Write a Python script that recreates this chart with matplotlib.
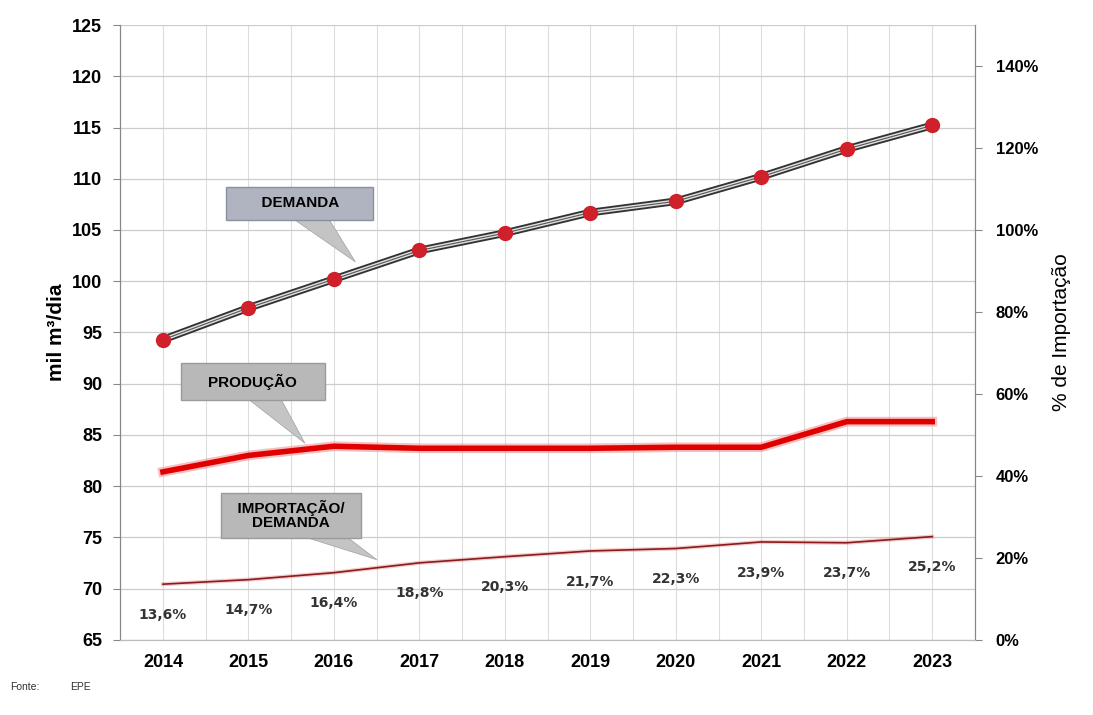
import numpy as np
import matplotlib.pyplot as plt
from matplotlib.ticker import FuncFormatter

anos = [2014, 2015, 2016, 2017, 2018, 2019, 2020, 2021, 2022, 2023]
demanda = [94.3, 97.4, 100.2, 103.0, 104.7, 106.7, 107.8, 110.2, 112.9, 115.2]
producao = [81.4, 83.0, 83.9, 83.7, 83.7, 83.7, 83.8, 83.8, 86.3, 86.3]
importacao = [13.6, 14.7, 16.4, 18.8, 20.3, 21.7, 22.3, 23.9, 23.7, 25.2]
rotulos = ["13,6%", "14,7%", "16,4%", "18,8%", "20,3%", "21,7%", "22,3%", "23,9%", "23,7%", "25,2%"]

plt.rcParams['font.family'] = ['Liberation Sans', 'DejaVu Sans']

fig = plt.figure(figsize=(10.93, 7.15), dpi=100)
ax = fig.add_axes([0.110, 0.105, 0.782, 0.860])
ax2 = ax.twinx()

ax.set_xlim(2013.5, 2023.5)
ax.set_ylim(65, 125)
ax2.set_ylim(0, 150)

# grid
for x in np.arange(2013.5, 2023.6, 0.5):
	ax.axvline(x, color='#dddddd', lw=0.8, zorder=0)
for y in range(65, 126, 5):
	ax.axhline(y, color='#cccccc', lw=0.9, zorder=0)

# demanda: listrada
ax.plot(anos, demanda, color='#333333', lw=5.5, zorder=3)
ax.plot(anos, demanda, color='#e0e0e0', lw=2.8, zorder=4)
ax.plot(anos, demanda, color='#555555', lw=0.8, zorder=5)
ax.plot(anos, demanda, 'o', color='#d0202a', ms=10, zorder=6)

# producao
ax.plot(anos, producao, color='#f08080', lw=7, alpha=0.5, zorder=3)
ax.plot(anos, producao, color='#e00000', lw=4, zorder=4)

# importacao / demanda (eixo direito)
ax2.plot(anos, importacao, color='#8b1a1a', lw=1.2, zorder=3)
ax2.plot(anos, importacao, color='#e08080', lw=3, alpha=0.4, zorder=2)
for x, v, r in zip(anos, importacao, rotulos):
	ax2.annotate(r, (x, v), xytext=(0, -22), textcoords='offset points',
	             ha='center', va='center', fontsize=10, fontweight='bold',
	             color='#333333', family=['DejaVu Sans'])

# caixas de chamada
seta = dict(arrowstyle='wedge,tail_width=2.2,shrink_factor=0.5', fc='#c4c4c4',
            ec='#a8a8a8', lw=0.6, shrinkA=0, shrinkB=0, patchA=None)
ax.annotate('      DEMANDA      ', xy=(2016.25, 101.9), xytext=(2015.6, 107.6),
            ha='center', va='center', fontsize=11, fontweight='bold',
            bbox=dict(boxstyle='square,pad=0.6', fc='#b0b4c0', ec='#8890a0', lw=1),
            arrowprops=seta, zorder=7)
ax.annotate('    PRODUÇÃO    ', xy=(2015.66, 84.2), xytext=(2015.05, 90.2),
            ha='center', va='center', fontsize=11, fontweight='bold',
            bbox=dict(boxstyle='square,pad=0.7', fc='#b8b8b8', ec='#9a9a9a', lw=1),
            arrowprops=seta, zorder=7)
ax2.annotate('  IMPORTAÇÃO/  \nDEMANDA', xy=(2016.5, 19.6), xytext=(2015.5, 30.4),
             ha='center', va='center', fontsize=11, fontweight='bold',
             linespacing=1.0,
             bbox=dict(boxstyle='square,pad=0.5', fc='#b8b8b8', ec='#9a9a9a', lw=1),
             arrowprops=seta, zorder=7)

# eixos
ax.set_xticks(anos)
ax.set_yticks(range(65, 126, 5))
ax2.set_yticks(range(0, 141, 20))
ax2.yaxis.set_major_formatter(FuncFormatter(lambda v, p: '%d%%' % v))
for lab in ax.get_xticklabels() + ax.get_yticklabels() + ax2.get_yticklabels():
	lab.set_fontweight('bold')
ax.tick_params(axis='x', labelsize=13, length=0, pad=10)
ax.tick_params(axis='y', labelsize=13, length=5, color='#888888', pad=8)
ax2.tick_params(axis='y', labelsize=12, length=5, color='#888888', pad=10)

for a in (ax, ax2):
	a.spines['top'].set_visible(False)
	a.spines['bottom'].set_color('#bbbbbb')
	a.spines['left'].set_color('#888888')
	a.spines['right'].set_color('#888888')

ax.set_ylabel('mil m³/dia', fontsize=15, fontweight='bold', labelpad=4)
ax2.set_ylabel('% de Importação', fontsize=15, labelpad=10)

fig.text(0.009, 0.035, 'Fonte:', fontsize=7.5, color='#333333')
fig.text(0.064, 0.035, 'EPE', fontsize=7.5, color='#333333')

plt.savefig('out.png', dpi=100)
